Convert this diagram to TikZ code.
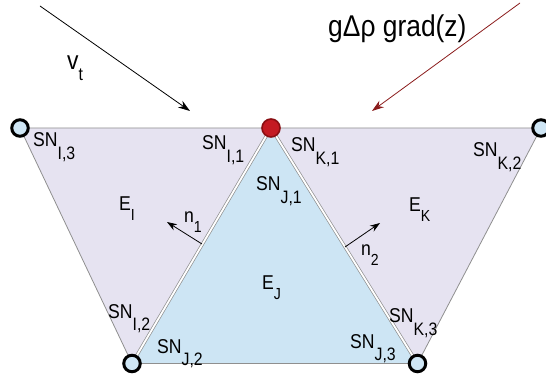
\documentclass[tikz,border=0pt]{standalone}
\usepackage{fontspec}
\setmainfont{Liberation Sans}[FakeStretch=0.88]
\usetikzlibrary{arrows.meta}
\definecolor{lav}{HTML}{E6E3F1}
\definecolor{jblue}{HTML}{CDE5F4}
\definecolor{edgegray}{HTML}{8F8F8F}
\definecolor{redfill}{HTML}{C41A22}
\definecolor{redline}{HTML}{8A0E12}
\definecolor{gradcol}{HTML}{8B1C1C}
\definecolor{vtxfill}{HTML}{CFE6F5}
\newcommand\subl[3]{#1\raisebox{#3}{\fontsize{18}{18}\selectfont #2}}
\newcommand\subs[3]{#1\raisebox{#3}{\fontsize{16}{16}\selectfont #2}}
\tikzset{
  vtx/.style={circle, draw=black, line width=3pt, fill=vtxfill, minimum size=16.5pt, inner sep=0pt},
  redvtx/.style={circle, draw=redline, line width=1.6pt, fill=redfill, minimum size=18pt, inner sep=0pt},
  tri/.style={draw=edgegray, line width=0.8pt, line join=round},
  shared/.style={draw=edgegray, line width=0.7pt, double=white, double distance=1.8pt},
  lab/.style={anchor=base west, inner sep=0pt, font=\fontsize{20}{24}\selectfont},
  bigarrow/.style={line width=0.8pt, -{Stealth[length=12pt,width=8pt]}}
}
\begin{document}
\begin{tikzpicture}[x=1pt,y=-1pt]
\useasboundingbox (0,0) rectangle (546,379);
% vertices
\coordinate (tl) at (20,128);
\coordinate (t) at (271,128);
\coordinate (tr) at (541,128);
\coordinate (bl) at (132,363.5);
\coordinate (br) at (417.5,363.5);
% triangles
\fill[lav] (tl) -- (t) -- (bl) -- cycle;
\fill[lav] (t) -- (tr) -- (br) -- cycle;
\fill[jblue] (t) -- (bl) -- (br) -- cycle;
\draw[tri] (bl) -- (tl) -- (t) -- (tr) -- (br);
\draw[tri] (bl) -- (br);
\draw[shared] (t) -- (bl);
\draw[shared] (t) -- (br);
% vertex circles
\node[vtx] (ntl) at (tl) {};
\node[vtx] (ntr) at (tr) {};
\node[vtx] (nbl) at (bl) {};
\node[vtx] (nbr) at (br) {};
\node[redvtx] (nt) at (t) {};
% forcing arrows
\coordinate (vs) at (40,6);
\coordinate (ve) at (190,111);
\draw[bigarrow, black] (vs) -- (ve);
\coordinate (gs) at (520,3);
\coordinate (ge) at (372,111);
\draw[bigarrow, gradcol] (gs) -- (ge);
\node[anchor=base west, inner sep=0pt, font=\fontsize{26}{30}\selectfont] (vt) at (67,70) {v\raisebox{-0.4em}{\fontsize{18}{18}\selectfont t}};
\node[anchor=base west, inner sep=0pt, font=\fontsize{30}{34}\selectfont] (grad) at (328,37) {gΔρ grad(z)};
% normals
\coordinate (n1s) at (202,244);
\coordinate (n1e) at (167,222);
\draw[line width=0.8pt, -{Stealth[length=10pt,width=7pt]}] (n1s) -- (n1e);
\coordinate (n2s) at (345,247);
\coordinate (n2e) at (380,223);
\draw[line width=0.8pt, -{Stealth[length=10pt,width=7pt]}] (n2s) -- (n2e);
\node[lab] (n1) at (184,223) {\subs{n}{1}{-0.5em}};
\node[lab] (n2) at (361,256) {\subs{n}{2}{-0.5em}};
% element labels
\node[lab] (ei) at (119,211) {\subs{E}{I}{-0.5em}};
\node[lab] (ej) at (262,290) {\subs{E}{J}{-0.5em}};
\node[lab] (ek) at (409,212) {\subs{E}{K}{-0.5em}};
% SN labels
\node[lab] (sni3) at (33,147) {\subl{SN}{I,3}{-0.62em}};
\node[lab] (sni1) at (202,150) {\subl{SN}{I,1}{-0.62em}};
\node[lab] (snk1) at (291,152) {\subl{SN}{K,1}{-0.62em}};
\node[lab] (snk2) at (473,157) {\subl{SN}{K,2}{-0.62em}};
\node[lab] (snj1) at (256,191) {\subl{SN}{J,1}{-0.62em}};
\node[lab] (sni2) at (108,318) {\subl{SN}{I,2}{-0.62em}};
\node[lab] (snj2) at (157,353) {\subl{SN}{J,2}{-0.62em}};
\node[lab] (snk3) at (389,323) {\subl{SN}{K,3}{-0.62em}};
\node[lab] (snj3) at (350,348) {\subl{SN}{J,3}{-0.62em}};
\end{tikzpicture}
\end{document}
